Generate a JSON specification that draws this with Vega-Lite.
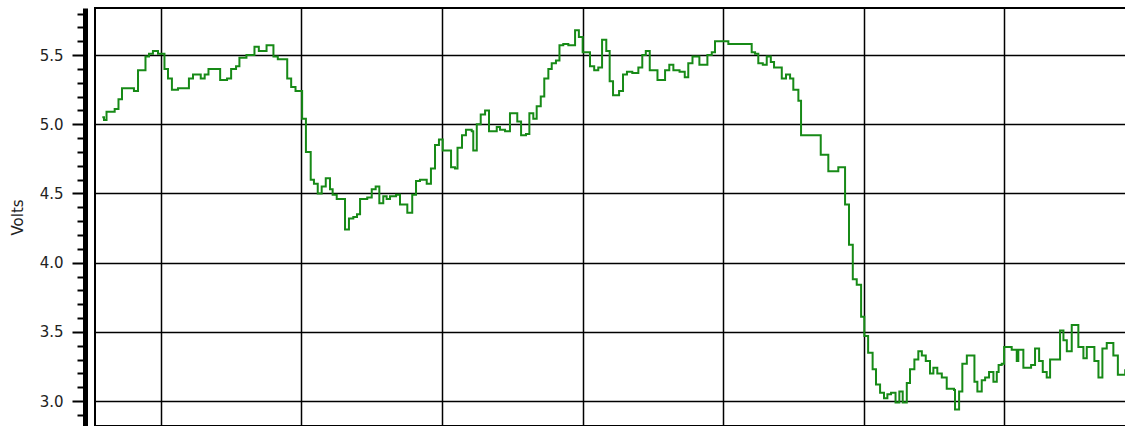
{
  "$schema": "https://vega.github.io/schema/vega-lite/v6.json",
  "autosize": "none",
  "padding": {"left": 95, "top": 8, "right": 0, "bottom": 0},
  "width": 1050,
  "height": 418,
  "config": {
    "view": {"stroke": "black", "strokeWidth": 2},
    "font": "DejaVu Sans"
  },
  "data": {"values": [
    {"t":0.585,"v":5.05},{"t":0.597,"v":5.03},{"t":0.615,"v":5.09},{"t":0.673,"v":5.11},{"t":0.700,"v":5.18},{"t":0.725,"v":5.26},{"t":0.810,"v":5.24},{"t":0.839,"v":5.39},{"t":0.892,"v":5.49},{"t":0.917,"v":5.51},{"t":0.945,"v":5.53},{"t":0.981,"v":5.51},
    {"t":1.027,"v":5.40},{"t":1.052,"v":5.33},{"t":1.080,"v":5.25},{"t":1.123,"v":5.26},{"t":1.201,"v":5.33},{"t":1.230,"v":5.36},{"t":1.285,"v":5.33},{"t":1.313,"v":5.36},{"t":1.340,"v":5.40},{"t":1.423,"v":5.32},{"t":1.472,"v":5.33},{"t":1.501,"v":5.40},{"t":1.536,"v":5.42},{"t":1.560,"v":5.48},{"t":1.610,"v":5.50},{"t":1.640,"v":5.50},{"t":1.667,"v":5.56},{"t":1.698,"v":5.53},{"t":1.753,"v":5.57},{"t":1.802,"v":5.49},{"t":1.833,"v":5.47},{"t":1.900,"v":5.33},{"t":1.928,"v":5.27},{"t":1.959,"v":5.24},
    {"t":2.006,"v":5.04},{"t":2.033,"v":4.80},{"t":2.067,"v":4.60},{"t":2.090,"v":4.57},{"t":2.117,"v":4.50},{"t":2.145,"v":4.55},{"t":2.174,"v":4.61},{"t":2.204,"v":4.53},{"t":2.223,"v":4.49},{"t":2.252,"v":4.46},{"t":2.311,"v":4.24},{"t":2.339,"v":4.32},{"t":2.370,"v":4.33},{"t":2.396,"v":4.35},{"t":2.418,"v":4.46},{"t":2.469,"v":4.47},{"t":2.501,"v":4.53},{"t":2.529,"v":4.55},{"t":2.555,"v":4.43},{"t":2.583,"v":4.48},{"t":2.607,"v":4.46},{"t":2.631,"v":4.48},{"t":2.674,"v":4.49},{"t":2.702,"v":4.42},{"t":2.754,"v":4.36},{"t":2.789,"v":4.49},{"t":2.816,"v":4.59},{"t":2.844,"v":4.60},{"t":2.892,"v":4.57},{"t":2.922,"v":4.68},{"t":2.951,"v":4.85},{"t":2.979,"v":4.89},
    {"t":3.006,"v":4.81},{"t":3.065,"v":4.69},{"t":3.093,"v":4.68},{"t":3.111,"v":4.83},{"t":3.143,"v":4.92},{"t":3.171,"v":4.96},{"t":3.212,"v":4.95},{"t":3.223,"v":4.81},{"t":3.248,"v":5.00},{"t":3.276,"v":5.07},{"t":3.307,"v":5.10},{"t":3.335,"v":4.95},{"t":3.390,"v":4.98},{"t":3.413,"v":4.96},{"t":3.449,"v":4.95},{"t":3.484,"v":5.08},{"t":3.536,"v":5.02},{"t":3.563,"v":4.92},{"t":3.598,"v":4.93},{"t":3.622,"v":5.08},{"t":3.650,"v":5.04},{"t":3.674,"v":5.13},{"t":3.703,"v":5.20},{"t":3.728,"v":5.33},{"t":3.757,"v":5.40},{"t":3.781,"v":5.44},{"t":3.811,"v":5.46},{"t":3.836,"v":5.57},{"t":3.863,"v":5.58},{"t":3.899,"v":5.57},{"t":3.947,"v":5.68},{"t":3.974,"v":5.63},
    {"t":4.001,"v":5.52},{"t":4.053,"v":5.42},{"t":4.083,"v":5.39},{"t":4.112,"v":5.41},{"t":4.139,"v":5.61},{"t":4.169,"v":5.53},{"t":4.193,"v":5.31},{"t":4.217,"v":5.21},{"t":4.260,"v":5.24},{"t":4.288,"v":5.36},{"t":4.316,"v":5.38},{"t":4.354,"v":5.37},{"t":4.397,"v":5.41},{"t":4.425,"v":5.50},{"t":4.450,"v":5.53},{"t":4.478,"v":5.39},{"t":4.533,"v":5.32},{"t":4.587,"v":5.39},{"t":4.617,"v":5.43},{"t":4.646,"v":5.39},{"t":4.690,"v":5.38},{"t":4.727,"v":5.34},{"t":4.752,"v":5.44},{"t":4.782,"v":5.49},{"t":4.831,"v":5.43},{"t":4.888,"v":5.50},{"t":4.919,"v":5.52},{"t":4.942,"v":5.60},
    {"t":5.037,"v":5.58},{"t":5.203,"v":5.52},{"t":5.227,"v":5.51},{"t":5.250,"v":5.44},{"t":5.282,"v":5.43},{"t":5.310,"v":5.49},{"t":5.339,"v":5.45},{"t":5.362,"v":5.41},{"t":5.417,"v":5.33},{"t":5.447,"v":5.36},{"t":5.476,"v":5.33},{"t":5.499,"v":5.25},{"t":5.535,"v":5.17},{"t":5.554,"v":4.92},{"t":5.694,"v":4.78},{"t":5.748,"v":4.66},{"t":5.819,"v":4.69},{"t":5.867,"v":4.42},{"t":5.895,"v":4.13},{"t":5.922,"v":3.88},{"t":5.950,"v":3.84},{"t":5.981,"v":3.61},
    {"t":6.004,"v":3.47},{"t":6.031,"v":3.35},{"t":6.063,"v":3.23},{"t":6.087,"v":3.12},{"t":6.116,"v":3.06},{"t":6.144,"v":3.02},{"t":6.168,"v":3.05},{"t":6.194,"v":3.06},{"t":6.226,"v":2.99},{"t":6.253,"v":3.07},{"t":6.277,"v":2.99},{"t":6.306,"v":3.13},{"t":6.329,"v":3.23},{"t":6.360,"v":3.30},{"t":6.388,"v":3.36},{"t":6.413,"v":3.33},{"t":6.441,"v":3.29},{"t":6.471,"v":3.20},{"t":6.495,"v":3.24},{"t":6.523,"v":3.20},{"t":6.555,"v":3.17},{"t":6.590,"v":3.09},{"t":6.642,"v":3.08},{"t":6.649,"v":2.94},{"t":6.678,"v":3.07},{"t":6.701,"v":3.27},{"t":6.733,"v":3.33},{"t":6.787,"v":3.14},{"t":6.808,"v":3.07},{"t":6.839,"v":3.15},{"t":6.863,"v":3.17},{"t":6.891,"v":3.21},{"t":6.922,"v":3.14},{"t":6.946,"v":3.21},{"t":6.959,"v":3.26},{"t":6.981,"v":3.27},
    {"t":6.998,"v":3.39},{"t":7.052,"v":3.37},{"t":7.088,"v":3.29},{"t":7.099,"v":3.37},{"t":7.135,"v":3.24},{"t":7.190,"v":3.26},{"t":7.218,"v":3.38},{"t":7.247,"v":3.29},{"t":7.273,"v":3.21},{"t":7.301,"v":3.17},{"t":7.325,"v":3.30},{"t":7.396,"v":3.51},{"t":7.420,"v":3.44},{"t":7.444,"v":3.36},{"t":7.479,"v":3.55},{"t":7.526,"v":3.39},{"t":7.562,"v":3.31},{"t":7.586,"v":3.39},{"t":7.640,"v":3.29},{"t":7.669,"v":3.17},{"t":7.697,"v":3.38},{"t":7.728,"v":3.42},{"t":7.775,"v":3.33},{"t":7.807,"v":3.19},{"t":7.859,"v":3.23}
  ]},
  "mark": {"type": "line", "interpolate": "step-after", "color": "#178a17", "strokeWidth": 2},
  "encoding": {
    "x": {
      "field": "t", "type": "quantitative",
      "scale": {"domain": [0.533, 8.0], "nice": false, "zero": false},
      "axis": {"values": [1,2,3,4,5,6,7], "grid": true, "gridColor": "black", "gridWidth": 1.5, "gridOpacity": 1, "labels": false, "ticks": false, "domain": false, "title": null}
    },
    "y": {
      "field": "v", "type": "quantitative",
      "scale": {"domain": [2.82, 5.84], "nice": false, "zero": false},
      "axis": {
        "title": "Volts",
        "titleFont": "DejaVu Sans", "titleFontSize": 15, "titleFontWeight": "normal", "titleColor": "#222", "titlePadding": 14,
        "values": [2.9,3.0,3.1,3.2,3.3,3.4,3.5,3.6,3.7,3.8,3.9,4.0,4.1,4.2,4.3,4.4,4.5,4.6,4.7,4.8,4.9,5.0,5.1,5.2,5.3,5.4,5.5,5.6,5.7,5.8],
        "labelExpr": "abs(datum.value*2 - round(datum.value*2)) < 0.01 ? format(datum.value, '.1f') : ''",
        "labelFont": "DejaVu Sans", "labelFontSize": 15, "labelColor": "#222", "labelPadding": 9,
        "offset": 10,
        "domain": true, "domainColor": "black", "domainWidth": 5,
        "tickColor": "black", "tickWidth": 2,
        "tickSize": {"condition": {"test": "abs(datum.value*2 - round(datum.value*2)) < 0.01", "value": 13}, "value": 8},
        "grid": true, "gridColor": "black", "gridWidth": 1.5,
        "gridOpacity": {"condition": {"test": "abs(datum.value*2 - round(datum.value*2)) < 0.01", "value": 1}, "value": 0}
      }
    }
  }
}
